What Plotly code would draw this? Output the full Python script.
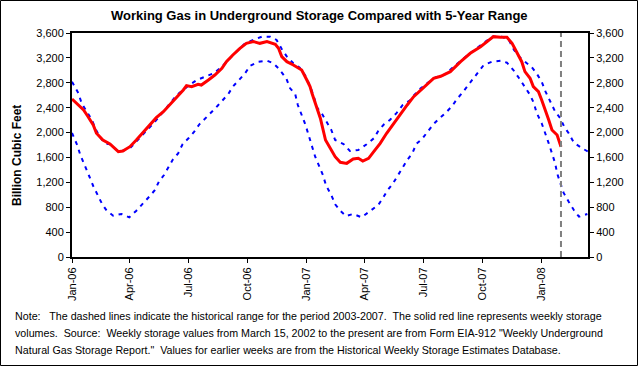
import plotly.graph_objects as go

# ---------------- data ----------------
storage_dates = ["2006-01-01", "2006-01-19", "2006-01-26", "2006-02-03", "2006-02-08", "2006-02-18",
                 "2006-03-01", "2006-03-06", "2006-03-14", "2006-03-21", "2006-04-01", "2006-04-11",
                 "2006-04-22", "2006-05-02", "2006-05-12", "2006-05-23", "2006-06-02", "2006-06-13",
                 "2006-06-23", "2006-06-28", "2006-07-06", "2006-07-16", "2006-07-21", "2006-08-01",
                 "2006-08-11", "2006-08-22", "2006-08-29", "2006-09-08", "2006-09-19", "2006-09-29",
                 "2006-10-10", "2006-10-20", "2006-10-31", "2006-11-13", "2006-11-18", "2006-11-23",
                 "2006-12-01", "2006-12-11", "2006-12-24", "2007-01-01", "2007-01-06", "2007-01-09",
                 "2007-01-17", "2007-01-22", "2007-01-30", "2007-02-07", "2007-02-14", "2007-02-22",
                 "2007-03-04", "2007-03-14", "2007-03-22", "2007-03-29", "2007-04-07", "2007-04-15",
                 "2007-04-25", "2007-05-05", "2007-05-16", "2007-05-26", "2007-06-06", "2007-06-16",
                 "2007-06-27", "2007-07-07", "2007-07-17", "2007-07-28", "2007-08-07", "2007-08-12",
                 "2007-08-28", "2007-09-12", "2007-09-28", "2007-10-08", "2007-10-18", "2007-10-29",
                 "2007-11-08", "2007-11-16", "2007-11-24", "2007-12-01", "2007-12-06", "2007-12-14",
                 "2007-12-19", "2007-12-27", "2008-01-01", "2008-01-07", "2008-01-12", "2008-01-17",
                 "2008-01-25", "2008-01-31"]
storage_values = [2540, 2362, 2255, 2121, 1988, 1880,
                  1816, 1773, 1693, 1704, 1773, 1880,
                  2014, 2121, 2239, 2336, 2443, 2577,
                  2684, 2754, 2738, 2775, 2764, 2845,
                  2925, 3032, 3139, 3246, 3354, 3434,
                  3461, 3434, 3461, 3418, 3354, 3220,
                  3139, 3086, 3005, 2845, 2738, 2631,
                  2390, 2230, 1880, 1747, 1612, 1522,
                  1505, 1575, 1586, 1543, 1586, 1693,
                  1827, 1988, 2149, 2282, 2443, 2577,
                  2684, 2791, 2872, 2905, 2952, 2979,
                  3139, 3274, 3380, 3461, 3541, 3530,
                  3530, 3434, 3274, 3139, 2979, 2872,
                  2738, 2657, 2523, 2362, 2202, 2041,
                  1961, 1773]

max_dates = ["2006-01-01", "2006-01-11", "2006-01-16", "2006-01-24", "2006-02-01", "2006-02-06",
             "2006-02-13", "2006-02-21", "2006-03-01", "2006-03-08", "2006-03-16", "2006-04-01",
             "2006-04-11", "2006-04-27", "2006-05-10", "2006-05-25", "2006-06-13", "2006-06-23",
             "2006-07-01", "2006-07-14", "2006-07-27", "2006-08-09", "2006-08-22", "2006-08-29",
             "2006-09-06", "2006-09-16", "2006-09-27", "2006-10-10", "2006-10-23", "2006-11-05",
             "2006-11-15", "2006-11-23", "2006-12-01", "2006-12-11", "2006-12-21", "2006-12-29",
             "2007-01-06", "2007-01-11", "2007-01-17", "2007-01-25", "2007-02-08", "2007-02-14",
             "2007-02-27", "2007-03-09", "2007-03-22", "2007-04-04", "2007-04-15", "2007-04-22",
             "2007-05-01", "2007-05-10", "2007-05-20", "2007-05-30", "2007-06-11", "2007-06-17",
             "2007-06-27", "2007-07-09", "2007-07-20", "2007-08-02", "2007-08-17", "2007-09-02",
             "2007-09-15", "2007-10-03", "2007-10-16", "2007-10-31", "2007-11-11", "2007-11-19",
             "2007-11-28", "2007-12-09", "2007-12-16", "2007-12-24", "2008-01-01", "2008-01-07",
             "2008-01-14", "2008-01-22", "2008-01-30", "2008-02-05", "2008-02-12", "2008-02-20",
             "2008-03-04", "2008-03-13"]
max_values = [2818, 2631, 2470, 2336, 2202, 2068,
              1934, 1827, 1811, 1747, 1693, 1747,
              1854, 2041, 2175, 2362, 2604, 2684,
              2754, 2845, 2898, 2952, 3059, 3139,
              3220, 3327, 3434, 3488, 3541, 3541,
              3488, 3343, 3220, 3113, 3043, 2925,
              2750, 2604, 2400, 2293, 2041, 1880,
              1816, 1704, 1720, 1811, 1907, 2025,
              2133, 2202, 2309, 2443, 2523, 2604,
              2711, 2807, 2888, 2925, 3059, 3193,
              3300, 3434, 3541, 3541, 3488, 3327,
              3209, 3113, 3059, 2952, 2818, 2657,
              2496, 2336, 2229, 2094, 1988, 1837,
              1747, 1693]

min_dates = ["2006-01-01", "2006-01-09", "2006-01-14", "2006-01-21", "2006-01-27", "2006-02-03",
             "2006-02-10", "2006-02-17", "2006-02-24", "2006-03-06", "2006-03-19", "2006-03-31",
             "2006-04-11", "2006-04-21", "2006-05-01", "2006-05-10", "2006-05-16", "2006-05-24",
             "2006-05-30", "2006-06-07", "2006-06-15", "2006-06-22", "2006-07-01", "2006-07-10",
             "2006-07-18", "2006-07-27", "2006-08-04", "2006-08-15", "2006-08-23", "2006-09-01",
             "2006-09-08", "2006-09-17", "2006-09-27", "2006-10-05", "2006-10-18", "2006-10-31",
             "2006-11-10", "2006-11-18", "2006-11-30", "2006-12-06", "2006-12-14", "2006-12-18",
             "2006-12-24", "2006-12-30", "2007-01-04", "2007-01-09", "2007-01-14", "2007-01-20",
             "2007-01-26", "2007-01-31", "2007-02-08", "2007-02-14", "2007-02-22", "2007-03-03",
             "2007-03-14", "2007-03-27", "2007-04-10", "2007-04-22", "2007-04-29", "2007-05-06",
             "2007-05-15", "2007-05-22", "2007-05-29", "2007-06-06", "2007-06-14", "2007-06-20",
             "2007-06-29", "2007-07-09", "2007-07-17", "2007-07-25", "2007-08-04", "2007-08-15",
             "2007-08-22", "2007-08-30", "2007-09-07", "2007-09-17", "2007-09-25", "2007-10-03",
             "2007-10-16", "2007-10-29", "2007-11-08", "2007-11-18", "2007-11-27", "2007-12-06",
             "2007-12-14", "2007-12-20", "2007-12-24", "2008-01-01", "2008-01-07", "2008-01-12",
             "2008-01-17", "2008-01-22", "2008-01-25", "2008-01-30", "2008-02-04", "2008-02-12",
             "2008-02-20", "2008-02-28", "2008-03-12"]
min_values = [1993, 1800, 1639, 1479, 1318, 1141,
              985, 847, 744, 664, 691, 638,
              744, 852, 969, 1077, 1211, 1318,
              1436, 1570, 1666, 1816, 1907, 2014,
              2133, 2218, 2309, 2427, 2523, 2620,
              2738, 2845, 2952, 3075, 3139, 3155,
              3113, 3032, 2872, 2711, 2615, 2443,
              2282, 2121, 1950, 1773, 1612, 1465,
              1318, 1146, 996, 847, 744, 659,
              691, 638, 744, 836, 943, 1066,
              1184, 1307, 1414, 1559, 1666, 1816,
              1896, 2025, 2138, 2218, 2309, 2427,
              2534, 2631, 2738, 2856, 2979, 3086,
              3139, 3155, 3123, 3005, 2872, 2738,
              2604, 2470, 2320, 2149, 1988, 1827,
              1666, 1505, 1345, 1184, 1034, 889,
              755, 648, 691]

y_ticks = [0, 400, 800, 1200, 1600, 2000, 2400, 2800, 3200, 3600]
y_tick_labels = ["0", "400", "800", "1,200", "1,600", "2,000", "2,400", "2,800", "3,200", "3,600"]
x_range = ["2006-01-01", "2008-03-13"]

title_text = "Working Gas in Underground Storage Compared with 5-Year Range"
y_title = "Billion Cubic Feet"
note_lines = [
    "Note:\u00a0\u00a0 The dashed lines indicate the historical range for the period 2003-2007.\u00a0 The solid red line represents weekly storage",
    "volumes.\u00a0 Source:\u00a0 Weekly storage values from March 15, 2002 to the present are from Form EIA-912 \"Weekly Underground",
    "Natural Gas Storage Report.\"\u00a0 Values for earlier weeks are from the Historical Weekly Storage Estimates Database.",
]

# ---------------- layout geometry ----------------
W, H = 638, 366
ML, MR, MT, MB = 72, 50, 33, 109
PW, PH = W - ML - MR, H - MT - MB

def px_x(px):
    return (px - ML) / PW

def px_y(py):
    return (H - MB - py) / PH

FONT = "Arial, Liberation Sans, sans-serif"

fig = go.Figure()

fig.add_trace(go.Scatter(x=max_dates, y=max_values, mode="lines",
                         line=dict(color="#0000FF", width=2, dash="4px,5px"),
                         showlegend=False, hoverinfo="skip"))
fig.add_trace(go.Scatter(x=min_dates, y=min_values, mode="lines",
                         line=dict(color="#0000FF", width=2, dash="4px,5px"),
                         showlegend=False, hoverinfo="skip"))
fig.add_trace(go.Scatter(x=storage_dates, y=storage_values, mode="lines",
                         line=dict(color="#FF0000", width=3),
                         showlegend=False))
# invisible trace to activate right axis
fig.add_trace(go.Scatter(x=[storage_dates[0]], y=[storage_values[0]], yaxis="y2",
                         mode="markers", marker=dict(opacity=0), showlegend=False,
                         hoverinfo="skip"))

# latest-week vertical dashed line
fig.add_shape(type="line", xref="x", yref="paper",
              x0=storage_dates[-1], x1=storage_dates[-1], y0=0, y1=1,
              line=dict(color="#808080", width=2, dash="6px,4px"))

# outer border of whole picture
fig.add_shape(type="rect", xref="paper", yref="paper",
              x0=px_x(0.5), x1=px_x(W - 0.5), y0=px_y(H - 0.5), y1=px_y(0.5),
              line=dict(color="black", width=1), fillcolor="rgba(0,0,0,0)")

axis_common = dict(showline=True, linecolor="black", linewidth=2, ticks="outside",
                   ticklen=4, tickwidth=1, tickcolor="black", showgrid=False,
                   zeroline=False, tickfont=dict(family=FONT, size=11, color="black"))

fig.update_layout(
    width=W, height=H,
    margin=dict(l=ML, r=MR, t=MT, b=MB, pad=0),
    paper_bgcolor="white", plot_bgcolor="white",
    xaxis=dict(type="date", range=x_range, dtick="M3", tick0="2006-01-01",
               tickformat="%b-%y", tickangle=-90, mirror=True, **axis_common),
    yaxis=dict(range=[0, 3600], tickvals=y_ticks, ticktext=y_tick_labels,
               mirror=True, **axis_common),
    yaxis2=dict(range=[0, 3600], tickvals=y_ticks, ticktext=y_tick_labels,
                overlaying="y", side="right", **axis_common),
    annotations=[
        dict(text="<b>" + title_text + "</b>", xref="paper", yref="paper",
             x=px_x(W / 2), y=px_y(16), xanchor="center", yanchor="middle",
             showarrow=False, font=dict(family=FONT, size=13, color="black")),
        dict(text="<b>" + y_title + "</b>", xref="paper", yref="paper",
             x=px_x(17), y=px_y(156), xanchor="center", yanchor="middle",
             textangle=-90, showarrow=False,
             font=dict(family=FONT, size=12, color="black")),
    ] + [
        dict(text=line, xref="paper", yref="paper", x=px_x(13), y=px_y(316 + 17 * i),
             xanchor="left", yanchor="middle", showarrow=False, align="left",
             font=dict(family=FONT, size=10.7, color="black"))
        for i, line in enumerate(note_lines)
    ],
)

fig.write_html("out.html", config={"displayModeBar": False, "staticPlot": True})

# remove the browser's default page margin so the figure fills the window exactly
with open("out.html", "r", encoding="utf-8") as f:
    html = f.read()
html = html.replace("<head>", "<head><style>html,body{margin:0;padding:0;overflow:hidden;}</style>", 1)
with open("out.html", "w", encoding="utf-8") as f:
    f.write(html)
